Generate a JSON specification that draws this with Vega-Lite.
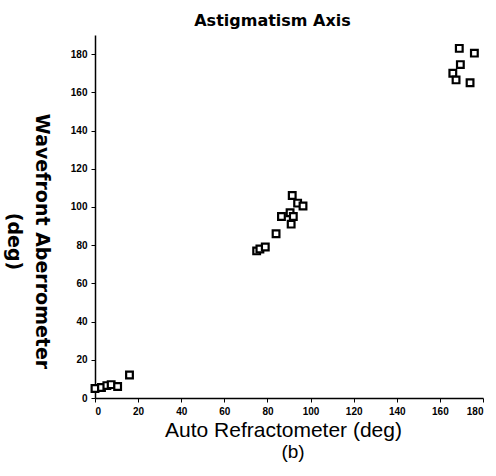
{
  "$schema": "https://vega.github.io/schema/vega-lite/v6.json",
  "autosize": "none",
  "width": 388,
  "height": 363,
  "padding": {"left": 95, "top": 35, "right": 13, "bottom": 78},
  "background": "white",
  "title": {
    "text": "(b)",
    "orient": "bottom",
    "font": "Liberation Sans",
    "fontSize": 19,
    "fontWeight": "normal",
    "color": "black",
    "anchor": "middle",
    "dx": 4,
    "offset": 3
  },
  "data": {
    "values": [
      {"ar": 0, "wa": 5},
      {"ar": 3, "wa": 5.5},
      {"ar": 5.5, "wa": 6.5},
      {"ar": 7.5, "wa": 7},
      {"ar": 10.5, "wa": 6},
      {"ar": 16, "wa": 12},
      {"ar": 75, "wa": 77},
      {"ar": 76.5, "wa": 78},
      {"ar": 79, "wa": 79},
      {"ar": 84, "wa": 86},
      {"ar": 86.5, "wa": 95},
      {"ar": 90.5, "wa": 97},
      {"ar": 92, "wa": 95},
      {"ar": 91, "wa": 91},
      {"ar": 91.5, "wa": 106},
      {"ar": 94, "wa": 102},
      {"ar": 96.5, "wa": 100.5},
      {"ar": 169, "wa": 183},
      {"ar": 176, "wa": 180.5},
      {"ar": 169.5, "wa": 174.5},
      {"ar": 166, "wa": 170},
      {"ar": 167.5, "wa": 166.5},
      {"ar": 174, "wa": 165}
    ]
  },
  "layer": [
    {
      "mark": {
        "type": "point",
        "shape": "square",
        "size": 45,
        "filled": false,
        "fill": "white",
        "stroke": "black",
        "strokeWidth": 2.2,
        "opacity": 1
      },
      "encoding": {
        "x": {
          "field": "ar",
          "type": "quantitative",
          "scale": {"domain": [0, 180], "nice": false, "zero": false},
          "axis": {
            "orient": "bottom",
            "title": "Auto Refractometer (deg)",
            "titleFont": "Liberation Sans",
            "titleFontSize": 21,
            "titleFontWeight": "normal",
            "titleColor": "black",
            "titlePadding": 3,
            "titleX": 188,
            "values": [0, 20, 40, 60, 80, 100, 120, 140, 160, 180],
            "labelFont": "Liberation Sans",
            "labelFontSize": 10,
            "labelFontWeight": "bold",
            "labelColor": "black",
            "labelPadding": 4,
            "domainColor": "black",
            "domainWidth": 1.5,
            "tickColor": "black",
            "tickSize": 4,
            "grid": false
          }
        },
        "y": {
          "field": "wa",
          "type": "quantitative",
          "scale": {"domain": [0, 190], "nice": false, "zero": false},
          "axis": {
            "title": ["Wavefront Aberrometer", "(deg)"],
            "titleAngle": 90,
            "titleFont": "DejaVu Sans",
            "titleFontSize": 19,
            "titleFontWeight": "bold",
            "titleColor": "black",
            "titleLineHeight": 28,
            "titlePadding": 11,
            "titleY": 206,
            "values": [0, 20, 40, 60, 80, 100, 120, 140, 160, 180],
            "labelFont": "Liberation Sans",
            "labelFontSize": 10,
            "labelFontWeight": "bold",
            "labelColor": "black",
            "labelPadding": 4,
            "domainColor": "black",
            "domainWidth": 1.5,
            "tickColor": "black",
            "tickSize": 4,
            "grid": false
          }
        }
      }
    },
    {
      "mark": {"type": "point", "opacity": 0},
      "encoding": {
        "x": {
          "field": "ar",
          "type": "quantitative",
          "scale": {"domain": [0, 180], "nice": false, "zero": false},
          "axis": {
            "orient": "top",
            "title": "Astigmatism Axis",
            "titleFont": "DejaVu Sans",
            "titleFontSize": 16,
            "titleFontWeight": "bold",
            "titleColor": "black",
            "titlePadding": 7,
            "titleX": 177,
            "labels": false,
            "ticks": false,
            "domain": false,
            "grid": false
          }
        },
        "y": {"field": "wa", "type": "quantitative"}
      }
    }
  ],
  "resolve": {"axis": {"x": "independent"}},
  "config": {"view": {"stroke": null}}
}
